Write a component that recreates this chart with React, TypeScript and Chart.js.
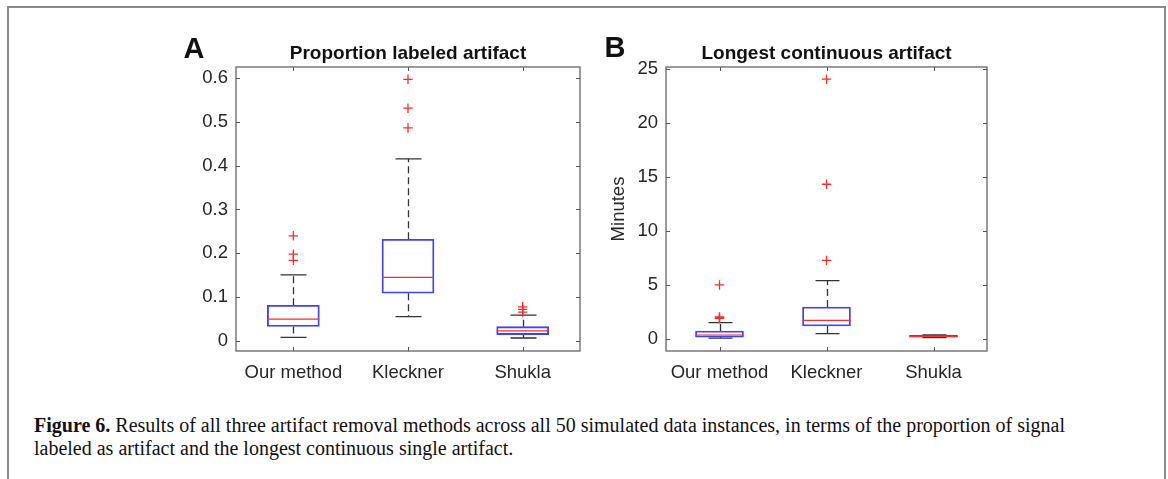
import React, { useEffect, useRef } from "react";
import { Chart, registerables } from "chart.js";

Chart.register(...registerables);

const categories = ["Our method", "Kleckner", "Shukla"];

// Panel A: proportion labeled artifact
const propQ1 = [0.033, 0.109, 0.0145];
const propMedian = [0.05, 0.145, 0.023];
const propQ3 = [0.0815, 0.232, 0.0327];
const propWhiskerLow = [0.0085, 0.0555, 0.0068];
const propWhiskerHigh = [0.151, 0.4155, 0.059];
const propOutliers = [
  [0.24, 0.198, 0.184],
  [0.597, 0.531, 0.486],
  [0.078, 0.072, 0.066],
];
const propTicks = [0, 0.1, 0.2, 0.3, 0.4, 0.5, 0.6];

// Panel B: longest continuous artifact (minutes)
const minQ1 = [0.19, 1.23, 0.21];
const minMedian = [0.4, 1.76, 0.28];
const minQ3 = [0.77, 2.99, 0.36];
const minWhiskerLow = [0.12, 0.52, 0.15];
const minWhiskerHigh = [1.54, 5.43, 0.42];
const minOutliers = [
  [5.03, 2.08, 2.0, 1.93],
  [24.07, 14.35, 7.31],
  [],
];
const minTicks = [0, 5, 10, 15, 20, 25];

const FONT = '"Liberation Sans", Arial, sans-serif';
const TEXT = "#262626";
const BLUE = "#4040ff";
const RED = "#ff2a2a";

type PanelProps = {
  left: number;
  top: number;
  width: number;
  height: number;
  yWidth: number;
  padRight: number;
  padTop: number;
  xHeight: number;
  yMin: number;
  yMax: number;
  ticks: number[];
  q1: number[];
  med: number[];
  q3: number[];
  wLo: number[];
  wHi: number[];
  outliers: number[][];
  boxWidth: number;
  letter: string;
  letterPos: [number, number];
  title: string;
  titleBaseline: number;
  yTitle?: string;
  yTitleX?: number;
};

function Panel(p: PanelProps) {
  const ref = useRef<HTMLCanvasElement | null>(null);
  useEffect(() => {
    if (!ref.current) return;
    const outlierPts: { x: string; y: number }[] = [];
    p.outliers.forEach((arr, i) => arr.forEach((v) => outlierPts.push({ x: categories[i], y: v })));

    const boxPlugin = {
      id: "boxExtras",
      beforeDatasetsDraw(chart: any) {
        const ctx = chart.ctx;
        const xs = chart.scales.x;
        const ys = chart.scales.y;
        ctx.save();
        categories.forEach((_, i) => {
          const x = Math.round(xs.getPixelForValue(i)) + 0.5;
          const cap = p.boxWidth / 4;
          ctx.strokeStyle = "#333";
          ctx.lineWidth = 1.3;
          ctx.setLineDash([7, 4]);
          ctx.beginPath();
          ctx.moveTo(x, ys.getPixelForValue(p.q3[i]));
          ctx.lineTo(x, ys.getPixelForValue(p.wHi[i]));
          ctx.moveTo(x, ys.getPixelForValue(p.q1[i]));
          ctx.lineTo(x, ys.getPixelForValue(p.wLo[i]));
          ctx.stroke();
          ctx.setLineDash([]);
          ctx.beginPath();
          ctx.moveTo(x - cap, ys.getPixelForValue(p.wHi[i]));
          ctx.lineTo(x + cap, ys.getPixelForValue(p.wHi[i]));
          ctx.moveTo(x - cap, ys.getPixelForValue(p.wLo[i]));
          ctx.lineTo(x + cap, ys.getPixelForValue(p.wLo[i]));
          ctx.stroke();
        });
        ctx.restore();
      },
      afterDatasetsDraw(chart: any) {
        const ctx = chart.ctx;
        const xs = chart.scales.x;
        const ys = chart.scales.y;
        ctx.save();
        ctx.strokeStyle = RED;
        ctx.lineWidth = 1.2;
        categories.forEach((_, i) => {
          const x = xs.getPixelForValue(i);
          const y = ys.getPixelForValue(p.med[i]);
          ctx.beginPath();
          ctx.moveTo(x - p.boxWidth / 2, y);
          ctx.lineTo(x + p.boxWidth / 2, y);
          ctx.stroke();
        });
        ctx.restore();
      },
      afterDraw(chart: any) {
        const ctx = chart.ctx;
        const a = chart.chartArea;
        const xs = chart.scales.x;
        const ys = chart.scales.y;
        ctx.save();
        ctx.strokeStyle = "#7a7a7a";
        ctx.lineWidth = 1.5;
        ctx.strokeRect(a.left, a.top, a.right - a.left, a.bottom - a.top);
        ctx.strokeStyle = "#555";
        ctx.lineWidth = 1;
        const tl = 4;
        ctx.beginPath();
        p.ticks.forEach((v) => {
          const y = Math.round(ys.getPixelForValue(v)) + 0.5;
          ctx.moveTo(a.left, y);
          ctx.lineTo(a.left + tl, y);
          ctx.moveTo(a.right, y);
          ctx.lineTo(a.right - tl, y);
        });
        categories.forEach((_, i) => {
          const x = Math.round(xs.getPixelForValue(i)) + 0.5;
          ctx.moveTo(x, a.bottom);
          ctx.lineTo(x, a.bottom - tl);
          ctx.moveTo(x, a.top);
          ctx.lineTo(x, a.top + tl);
        });
        ctx.stroke();

        ctx.fillStyle = "#111";
        ctx.font = `bold 29px ${FONT}`;
        ctx.textAlign = "center";
        ctx.textBaseline = "middle";
        ctx.fillText(p.letter, p.letterPos[0], p.letterPos[1]);

        ctx.font = `bold 19px ${FONT}`;
        ctx.textBaseline = "alphabetic";
        ctx.fillText(p.title, (a.left + a.right) / 2, p.titleBaseline);

        if (p.yTitle) {
          ctx.save();
          ctx.translate(p.yTitleX || 0, (a.top + a.bottom) / 2);
          ctx.rotate(-Math.PI / 2);
          ctx.fillStyle = TEXT;
          ctx.font = `18.5px ${FONT}`;
          ctx.textBaseline = "middle";
          ctx.fillText(p.yTitle, 0, 0);
          ctx.restore();
        }
        ctx.restore();
      },
    };

    const chart = new Chart(ref.current, {
      type: "bar",
      data: {
        labels: categories,
        datasets: [
          {
            type: "bar",
            data: categories.map((_, i) => [p.q1[i], p.q3[i]]) as any,
            backgroundColor: "rgba(0,0,0,0)",
            borderColor: BLUE,
            borderWidth: 1.2,
            borderSkipped: false,
            barThickness: p.boxWidth,
            order: 2,
          } as any,
          {
            type: "scatter",
            data: outlierPts as any,
            pointStyle: "cross",
            radius: 4.7,
            borderColor: RED,
            borderWidth: 1.3,
            backgroundColor: RED,
            order: 1,
          } as any,
        ],
      },
      options: {
        responsive: false,
        animation: false,
        events: [],
        layout: { padding: { left: 0, right: p.padRight, top: p.padTop, bottom: 0 } },
        plugins: { legend: { display: false }, tooltip: { enabled: false }, title: { display: false } },
        scales: {
          x: {
            type: "category",
            offset: true,
            grid: { display: false, drawTicks: false },
            border: { display: false },
            ticks: { color: TEXT, font: { family: FONT, size: 18.5 }, padding: 11, maxRotation: 0, autoSkip: false },
            afterFit: (s: any) => {
              s.height = p.xHeight;
            },
          },
          y: {
            type: "linear",
            min: p.yMin,
            max: p.yMax,
            grid: { display: false, drawTicks: false },
            border: { display: false },
            ticks: { color: TEXT, font: { family: FONT, size: 18.5 }, padding: 8, callback: (v: any) => String(v) },
            afterBuildTicks: (s: any) => {
              s.ticks = p.ticks.map((v) => ({ value: v }));
            },
            afterFit: (s: any) => {
              s.width = p.yWidth;
            },
          },
        },
      } as any,
      plugins: [boxPlugin],
    });
    return () => chart.destroy();
  }, []);
  return (
    <canvas
      ref={ref}
      width={p.width}
      height={p.height}
      style={{ position: "absolute", left: p.left, top: p.top, width: p.width, height: p.height }}
    />
  );
}

export default function App() {
  return (
    <div style={{ position: "absolute", left: 0, top: 0, width: 1168, height: 479, background: "#fff", overflow: "hidden" }}>
      <div
        style={{
          position: "absolute",
          left: 7,
          top: 6,
          width: 1155,
          height: 473,
          borderLeft: "2px solid #8a8a8a",
          borderTop: "2px solid #8a8a8a",
          borderRight: "2px solid #8a8a8a",
        }}
      />
      <Panel
        left={150}
        top={20}
        width={440}
        height={370}
        yWidth={86}
        padRight={10}
        padTop={47}
        xHeight={39}
        yMin={-0.0228}
        yMax={0.625}
        ticks={propTicks}
        q1={propQ1}
        med={propMedian}
        q3={propQ3}
        wLo={propWhiskerLow}
        wHi={propWhiskerHigh}
        outliers={propOutliers}
        boxWidth={52}
        letter="A"
        letterPos={[44, 29.7]}
        title="Proportion labeled artifact"
        titleBaseline={39.3}
      />
      <Panel
        left={590}
        top={20}
        width={420}
        height={370}
        yWidth={76}
        padRight={23}
        padTop={47}
        xHeight={39}
        yMin={-1.08}
        yMax={25.2}
        ticks={minTicks}
        q1={minQ1}
        med={minMedian}
        q3={minQ3}
        wLo={minWhiskerLow}
        wHi={minWhiskerHigh}
        outliers={minOutliers}
        boxWidth={48}
        letter="B"
        letterPos={[25, 29]}
        title="Longest continuous artifact"
        titleBaseline={39}
        yTitle="Minutes"
        yTitleX={29}
      />
      <div
        style={{
          position: "absolute",
          left: 34,
          top: 414,
          fontFamily: '"Liberation Serif", "Times New Roman", serif',
          fontSize: 20,
          lineHeight: "23px",
          color: "#111",
          whiteSpace: "nowrap",
        }}
      >
        <div>
          <b>Figure 6.</b> Results of all three artifact removal methods across all 50 simulated data instances, in terms of the proportion of signal
        </div>
        <div>labeled as artifact and the longest continuous single artifact.</div>
      </div>
    </div>
  );
}
